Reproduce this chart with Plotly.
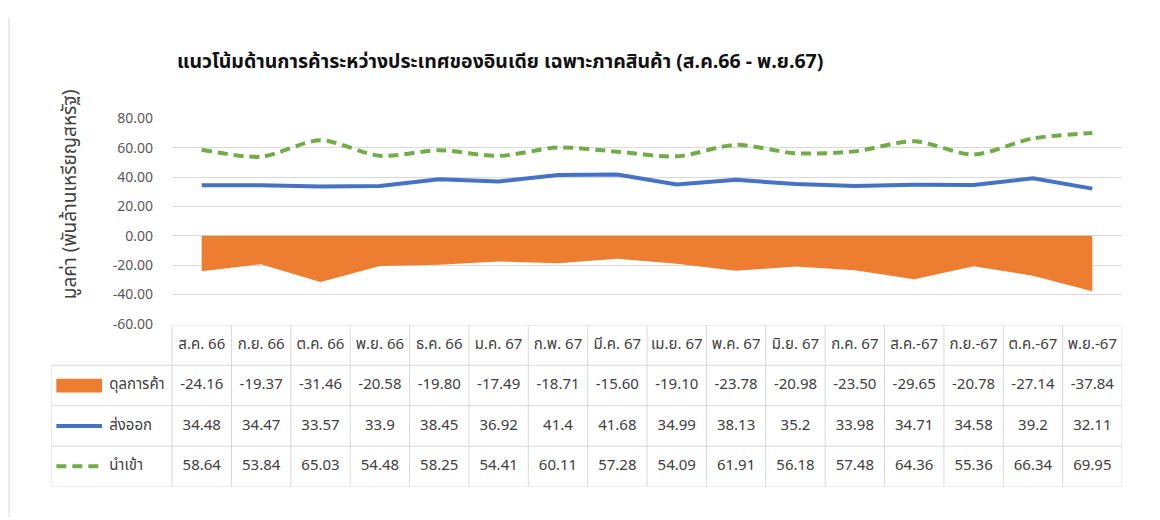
import plotly.graph_objects as go

W, H = 1160, 520

months = ["ส.ค. 66", "ก.ย. 66", "ต.ค. 66", "พ.ย. 66", "ธ.ค. 66", "ม.ค. 67", "ก.พ. 67", "มี.ค. 67",
          "เม.ย. 67", "พ.ค. 67", "มิ.ย. 67", "ก.ค. 67", "ส.ค.-67", "ก.ย.-67", "ต.ค.-67", "พ.ย.-67"]
balance = [-24.16, -19.37, -31.46, -20.58, -19.80, -17.49, -18.71, -15.60,
           -19.10, -23.78, -20.98, -23.50, -29.65, -20.78, -27.14, -37.84]
exports = [34.48, 34.47, 33.57, 33.9, 38.45, 36.92, 41.4, 41.68,
           34.99, 38.13, 35.2, 33.98, 34.71, 34.58, 39.2, 32.11]
imports = [58.64, 53.84, 65.03, 54.48, 58.25, 54.41, 60.11, 57.28,
           54.09, 61.91, 56.18, 57.48, 64.36, 55.36, 66.34, 69.95]
series_names = ["ดุลการค้า", "ส่งออก", "นำเข้า"]
title = "แนวโน้มด้านการค้าระหว่างประเทศของอินเดีย เฉพาะภาคสินค้า (ส.ค.66 - พ.ย.67)"
ytitle = "มูลค่า (พันล้านเหรียญสหรัฐ)"

ORANGE, BLUE, GREEN = "#ED7D31", "#4472C4", "#70AD47"
GRID = "#d9d9d9"
TXT = "#404040"
FONT = "Noto Sans Thai, Noto Sans, DejaVu Sans, sans-serif"

# layout helpers: target pixel positions -> paper fractions (compensating page offset/scale)
OX, OY, SY = 8.0, 17.5, 0.9615


def px(x):
    return (x - OX) / W


def py(y):
    return 1 - ((y - OY) / SY) / H


idx = list(range(len(months)))
n = len(months)

fig = go.Figure()

# chart
fig.add_trace(go.Scatter(x=idx, y=balance, mode="none", fill="tozeroy", fillcolor=ORANGE,
                         name=series_names[0], xaxis="x", yaxis="y", hoverinfo="skip"))
fig.add_trace(go.Scatter(x=idx, y=exports, mode="lines", line=dict(color=BLUE, width=4),
                         name=series_names[1], xaxis="x", yaxis="y"))
fig.add_trace(go.Scatter(x=idx, y=imports, mode="lines",
                         line=dict(color=GREEN, width=4, dash="10px,6px", shape="spline", smoothing=0.8),
                         name=series_names[2], xaxis="x", yaxis="y"))

# data table
tf = dict(size=15, color=TXT, family=FONT)
fig.add_trace(go.Scatter(x=idx, y=[0.5] * n, mode="text", text=months, textfont=tf,
                         xaxis="x2", yaxis="y2", cliponaxis=False, hoverinfo="skip"))
rows = [["%.2f" % v for v in balance], [str(v) for v in exports], [str(v) for v in imports]]
for r, vals in enumerate(rows):
    fig.add_trace(go.Scatter(x=idx, y=[r + 1.5] * n, mode="text", text=vals, textfont=tf,
                             xaxis="x2", yaxis="y2", cliponaxis=False, hoverinfo="skip"))
fig.add_trace(go.Scatter(x=[-1.56] * 3, y=[1.5, 2.5, 3.5], mode="text", text=series_names,
                         textposition="middle right", textfont=tf,
                         xaxis="x2", yaxis="y2", cliponaxis=False, hoverinfo="skip"))

X2L = -2.54
shapes = []
for k in range(n + 1):
    shapes.append(dict(type="line", xref="x2", yref="y2", x0=k - 0.5, x1=k - 0.5, y0=0, y1=4,
                       line=dict(color=GRID, width=1)))
shapes.append(dict(type="line", xref="x2", yref="y2", x0=X2L, x1=X2L, y0=1, y1=4,
                   line=dict(color=GRID, width=1)))
shapes.append(dict(type="line", xref="x2", yref="y2", x0=-0.5, x1=n - 0.5, y0=0, y1=0,
                   line=dict(color=GRID, width=1)))
for r in range(1, 5):
    shapes.append(dict(type="line", xref="x2", yref="y2", x0=X2L, x1=n - 0.5, y0=r, y1=r,
                       line=dict(color=GRID, width=1)))
# legend keys inside the table
shapes.append(dict(type="rect", xref="x2", yref="y2", x0=-2.45, x1=-1.68, y0=1.33, y1=1.67,
                   fillcolor=ORANGE, line=dict(width=0)))
shapes.append(dict(type="line", xref="x2", yref="y2", x0=-2.45, x1=-1.68, y0=2.5, y1=2.5,
                   line=dict(color=BLUE, width=4)))
shapes.append(dict(type="line", xref="x2", yref="y2", x0=-2.45, x1=-1.68, y0=3.5, y1=3.5,
                   line=dict(color=GREEN, width=4, dash="10px,6px")))
# chart-area left border
shapes.append(dict(type="line", xref="paper", yref="paper", x0=px(9), x1=px(9), y0=0, y1=1,
                   line=dict(color="#d9d9d9", width=1), layer="below"))

fig.update_layout(
    width=W, height=H,
    margin=dict(l=0, r=0, t=0, b=0),
    paper_bgcolor="white", plot_bgcolor="rgba(0,0,0,0)",
    showlegend=False,
    font=dict(family=FONT, color=TXT),
    xaxis=dict(domain=[px(172), px(1122)], range=[-0.5, n - 0.5], visible=False, anchor="y"),
    yaxis=dict(domain=[py(324), py(118)], range=[-60, 80], dtick=20, tickformat=".2f",
               showgrid=True, gridcolor=GRID, gridwidth=1, zeroline=False,
               tickfont=dict(size=14, color="#595959", family=FONT),
               ticklabelstandoff=18, anchor="x"),
    xaxis2=dict(domain=[px(51), px(1122)], range=[X2L, n - 0.5], visible=False, anchor="y2"),
    yaxis2=dict(domain=[py(487), py(325)], range=[4, 0], visible=False, anchor="x2"),
    shapes=shapes,
    annotations=[
        dict(text="<b>" + title + "</b>", xref="paper", yref="paper", x=px(500), y=py(62),
             xanchor="center", yanchor="middle", showarrow=False,
             font=dict(size=19.5, color="#111111", family=FONT)),
        dict(text=ytitle, xref="paper", yref="paper", x=px(70), y=py(194), textangle=-90,
             xanchor="center", yanchor="middle", showarrow=False,
             font=dict(size=19, color=TXT, family=FONT)),
    ],
)

fig.write_html("out.html")
